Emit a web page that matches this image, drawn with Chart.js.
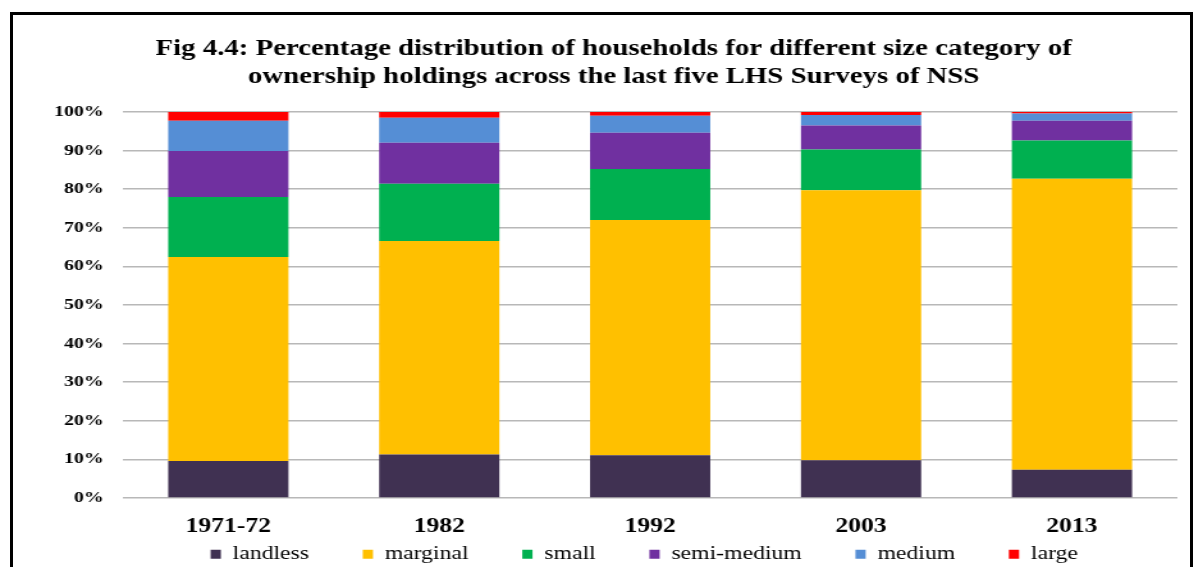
<!DOCTYPE html>
<html>
<head>
<meta charset="utf-8">
<script src="https://cdn.jsdelivr.net/npm/chart.js@4"></script>
<style>
  body { margin: 0; background: #fff; overflow: hidden; }
  #frame { position: absolute; left: 10px; top: 12px; width: 1183px; height: 600px; border: 3px solid #000; box-sizing: border-box; }
  /* the reference picture is stretched sideways, so the chart is drawn narrow and widened */
  #wrap { position: absolute; left: 0; top: 0; width: 940px; height: 567px; transform: scaleX(1.2798); transform-origin: 0 0; }
</style>
</head>
<body>
<div id="frame"></div>
<div id="wrap"><canvas id="barChart" width="940" height="567"></canvas></div>
<script>
const years = ['1971-72', '1982', '1992', '2003', '2013'];
const landless   = [9.6, 11.3, 11.1, 9.8, 7.3];
const marginal   = [52.8, 55.3, 60.9, 69.9, 75.4];
const small      = [15.6, 14.8, 13.2, 10.6, 9.9];
const semiMedium = [11.9, 10.6, 9.4, 6.2, 5.1];
const medium     = [7.8, 6.5, 4.4, 2.7, 1.9];
const large      = [2.3, 1.5, 1.0, 0.8, 0.4];
const yTicks = [0, 10, 20, 30, 40, 50, 60, 70, 80, 90, 100];

const serif = "'Liberation Serif', 'Times New Roman', serif";

document.addEventListener('DOMContentLoaded', function() {
    const ctx = document.getElementById('barChart').getContext('2d');
    Chart.defaults.font.family = serif;
    Chart.defaults.color = '#000';

    const barChart = new Chart(ctx, {
        type: 'bar',
        data: {
            labels: years,
            datasets: [
                { label: 'landless', data: landless, backgroundColor: '#403152' },
                { label: 'marginal', data: marginal, backgroundColor: '#FFC000' },
                { label: 'small', data: small, backgroundColor: '#00B050' },
                { label: 'semi-medium', data: semiMedium, backgroundColor: '#7030A0' },
                { label: 'medium', data: medium, backgroundColor: '#558ED5' },
                { label: 'large', data: large, backgroundColor: '#FF0000' }
            ]
        },
        options: {
            responsive: false,
            animation: false,
            datasets: {
                bar: { categoryPercentage: 1, barPercentage: 0.57, borderWidth: 0 }
            },
            layout: { padding: { left: 39, right: 20, top: 0, bottom: 0 } },
            scales: {
                x: {
                    stacked: true,
                    afterFit: function(scale) { scale.height = 42; },
                    grid: { display: false, drawTicks: false },
                    border: { display: false },
                    ticks: { padding: 17, font: { family: serif, size: 20, weight: 'bold' } }
                },
                y: {
                    stacked: true,
                    min: 0,
                    max: 100,
                    afterFit: function(scale) { scale.width = 57; },
                    afterBuildTicks: function(scale) { scale.ticks = yTicks.map(v => ({ value: v })); },
                    grid: { color: '#b8b8b8', lineWidth: 1.6, drawTicks: false },
                    border: { display: false },
                    ticks: {
                        padding: 15,
                        font: { family: serif, size: 15.5, weight: 'bold' },
                        callback: function(v) { return v + '%'; }
                    }
                }
            },
            plugins: {
                title: {
                    display: true,
                    text: ['Fig 4.4: Percentage distribution of households for different size category of',
                           'ownership holdings across the last five LHS Surveys of NSS'],
                    font: { family: serif, size: 22.5, weight: 'bold', lineHeight: 1.244 },
                    color: '#000',
                    padding: { top: 35, bottom: 21 }
                },
                legend: {
                    position: 'bottom',
                    fullSize: false,
                    maxHeight: 27,
                    labels: {
                        boxWidth: 8,
                        boxHeight: 9,
                        padding: 5,
                        color: '#000',
                        font: { family: serif, size: 18.5, weight: 'normal' },
                        generateLabels: function(chart) {
                            const items = Chart.defaults.plugins.legend.labels.generateLabels(chart);
                            items.forEach(function(it, i) {
                                it.lineWidth = 0;
                                it.text = it.text + (i < items.length - 1 ? '\u2002\u2002\u2002\u2002' : '\u2002');
                            });
                            return items;
                        }
                    }
                },
                tooltip: { enabled: false }
            }
        }
    });
});
</script>
</body>
</html>
